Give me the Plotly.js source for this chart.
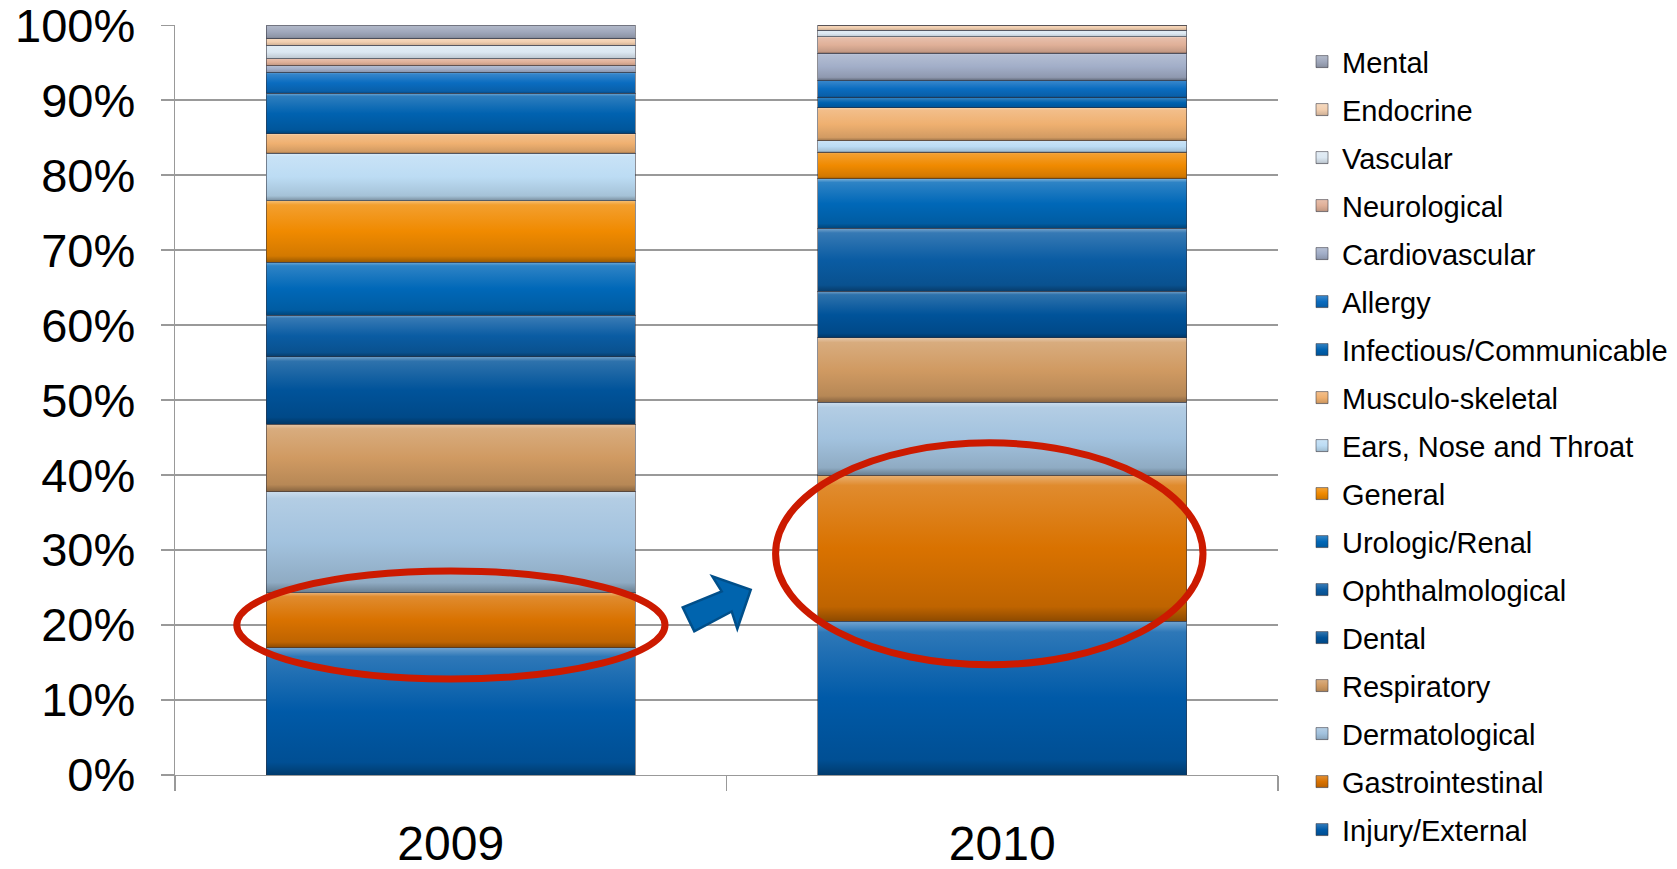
<!DOCTYPE html>
<html><head><meta charset="utf-8">
<script src="https://cdn.plot.ly/plotly-3.0.1.min.js"></script>
<style>html,body{margin:0;padding:0;background:#fff;} #chart{width:1677px;height:869px;}</style>
</head><body><div id="chart"></div>
<script>
const years = ['2009', '2010'];
const categories = ['Injury/External', 'Gastrointestinal', 'Dermatological', 'Respiratory', 'Dental',
  'Ophthalmological', 'Urologic/Renal', 'General', 'Ears, Nose and Throat', 'Musculo-skeletal',
  'Infectious/Communicable', 'Allergy', 'Cardiovascular', 'Neurological', 'Vascular', 'Endocrine', 'Mental'];
const values2009 = [17.0, 7.3, 13.5, 9.0, 9.0, 5.5, 7.1, 8.2, 6.3, 2.6, 5.4, 2.8, 0.9, 0.9, 1.8, 0.9, 1.8];
const values2010 = [20.5, 19.5, 9.7, 8.6, 6.2, 8.4, 6.6, 3.6, 1.5, 4.4, 1.35, 2.35, 3.6, 2.15, 0.9, 0.67, 0];
const colors = ['#005aa8', '#d97200', '#a2c2de', '#d09a62', '#00539a', '#0a5ca3', '#0068b8', '#f08a00',
  '#bcdcf4', '#efb070', '#0062b0', '#0a6cc0', '#a2aec8', '#e0b098', '#dce8f2', '#f2cfb0', '#a0a8bc'];
const tickVals = [0, 10, 20, 30, 40, 50, 60, 70, 80, 90, 100];
const tickText = ['0%', '10%', '20%', '30%', '40%', '50%', '60%', '70%', '80%', '90%', '100%'];

const FONT = 'Liberation Sans, Arial, sans-serif';
const data = categories.map((name, i) => ({
  type: 'bar',
  name: name,
  x: years,
  y: [values2009[i], values2010[i]],
  legendgroup: 'g' + i,
  legendrank: 1000 - i,
  marker: {color: colors[i], line: {color: 'rgba(50,50,60,0.55)', width: 1}},
  hoverinfo: 'name+y'
}));

const red = '#cc1a00';
const layout = {
  width: 1677, height: 869,
  margin: {l: 175, r: 399, t: 25, b: 94, autoexpand: false},
  paper_bgcolor: '#fff', plot_bgcolor: '#fff',
  barmode: 'stack', barnorm: 'percent', bargap: 0.331,
  font: {family: FONT, color: '#000'},
  xaxis: {
    type: 'category', range: [-0.5, 1.5],
    tickson: 'boundaries', ticks: 'outside', ticklen: 15, tickcolor: '#999', tickwidth: 1.3,
    showline: true, linecolor: '#999', linewidth: 1.3,
    showgrid: false, zeroline: false,
    tickfont: {size: 48, family: FONT, color: '#000'},
    ticklabelstandoff: 26, ticklabeloverflow: 'allow'
  },
  yaxis: {
    range: [0, 100.02], tickmode: 'array', tickvals: tickVals, ticktext: tickText,
    ticks: 'outside', ticklen: 13, tickcolor: '#999', tickwidth: 1.3,
    showline: true, linecolor: '#999', linewidth: 1.3,
    showgrid: true, gridcolor: '#999', gridwidth: 1.3, zeroline: false,
    tickfont: {size: 47, family: FONT, color: '#000'},
    ticklabelstandoff: 16, ticklabeloverflow: 'allow'
  },
  legend: {
    xref: 'container', yref: 'container',
    x: 0.7764, xanchor: 'left', y: 0.9583, yanchor: 'top',
    traceorder: 'grouped', tracegroupgap: 7.3, maxheight: 900,
    font: {size: 29, family: FONT, color: '#000'},
    itemwidth: 30, bgcolor: 'rgba(0,0,0,0)'
  },
  shapes: [
    {type: 'circle', xref: 'x', yref: 'y', x0: -0.388, x1: 0.3885, y0: 12.8, y1: 27.2,
     line: {color: red, width: 7}, fillcolor: 'rgba(0,0,0,0)'},
    {type: 'circle', xref: 'x', yref: 'y', x0: 0.589, x1: 1.364, y0: 14.7, y1: 44.3,
     line: {color: red, width: 7}, fillcolor: 'rgba(0,0,0,0)'},
    {type: 'path', xref: 'x', yref: 'y',
     path: 'M0.4206,22.35 L0.4913,24.48 L0.4743,26.48 L0.5439,24.71 L0.5196,19.51 L0.5094,21.81 L0.4416,19.15 Z',
     fillcolor: '#0064ae', line: {color: '#004f8a', width: 2.5}}
  ]
};

function hexToRgb(h) { h = h.replace('#', ''); return [0, 2, 4].map(k => parseInt(h.substr(k, 2), 16)); }
function mix(c, t) {
  const rgb = hexToRgb(c);
  const out = rgb.map(v => Math.round(t >= 0 ? v + (255 - v) * t : v * (1 + t)));
  return 'rgb(' + out.join(',') + ')';
}

Plotly.newPlot('chart', data, layout, {displayModeBar: false, staticPlot: true}).then(gd => {
  try {
    const ns = 'http://www.w3.org/2000/svg';
    const svg = gd.querySelector('svg.main-svg');
    let defs = svg.querySelector('defs');
    if (!defs) { defs = document.createElementNS(ns, 'defs'); svg.insertBefore(defs, svg.firstChild); }
    colors.forEach((c, i) => {
      const g = document.createElementNS(ns, 'linearGradient');
      g.setAttribute('id', 'bevel' + i);
      g.setAttribute('x1', '0'); g.setAttribute('y1', '0'); g.setAttribute('x2', '0'); g.setAttribute('y2', '1');
      [[0, 0.45], [0.07, 0.18], [0.5, 0], [0.9, -0.12], [1, -0.35]].forEach(([o, t]) => {
        const s = document.createElementNS(ns, 'stop');
        s.setAttribute('offset', o); s.setAttribute('stop-color', mix(c, t));
        g.appendChild(s);
      });
      defs.appendChild(g);
    });
    gd.querySelectorAll('.barlayer .trace').forEach((tr, i) => {
      let idx = i;
      try { idx = tr.__data__[0].trace.index; } catch (e) {}
      tr.querySelectorAll('path').forEach(p => { p.style.fill = 'url(#bevel' + idx + ')'; });
    });
    gd.querySelectorAll('.legend .traces').forEach(tr => {
      let idx = null;
      try { idx = tr.__data__[0].trace.index; } catch (e) {}
      if (idx === null || idx === undefined) return;
      tr.querySelectorAll('.legendpoints path').forEach(p => { p.style.fill = 'url(#bevel' + idx + ')'; });
    });
  } catch (e) { console.log(e); }
});
</script>
</body></html>
